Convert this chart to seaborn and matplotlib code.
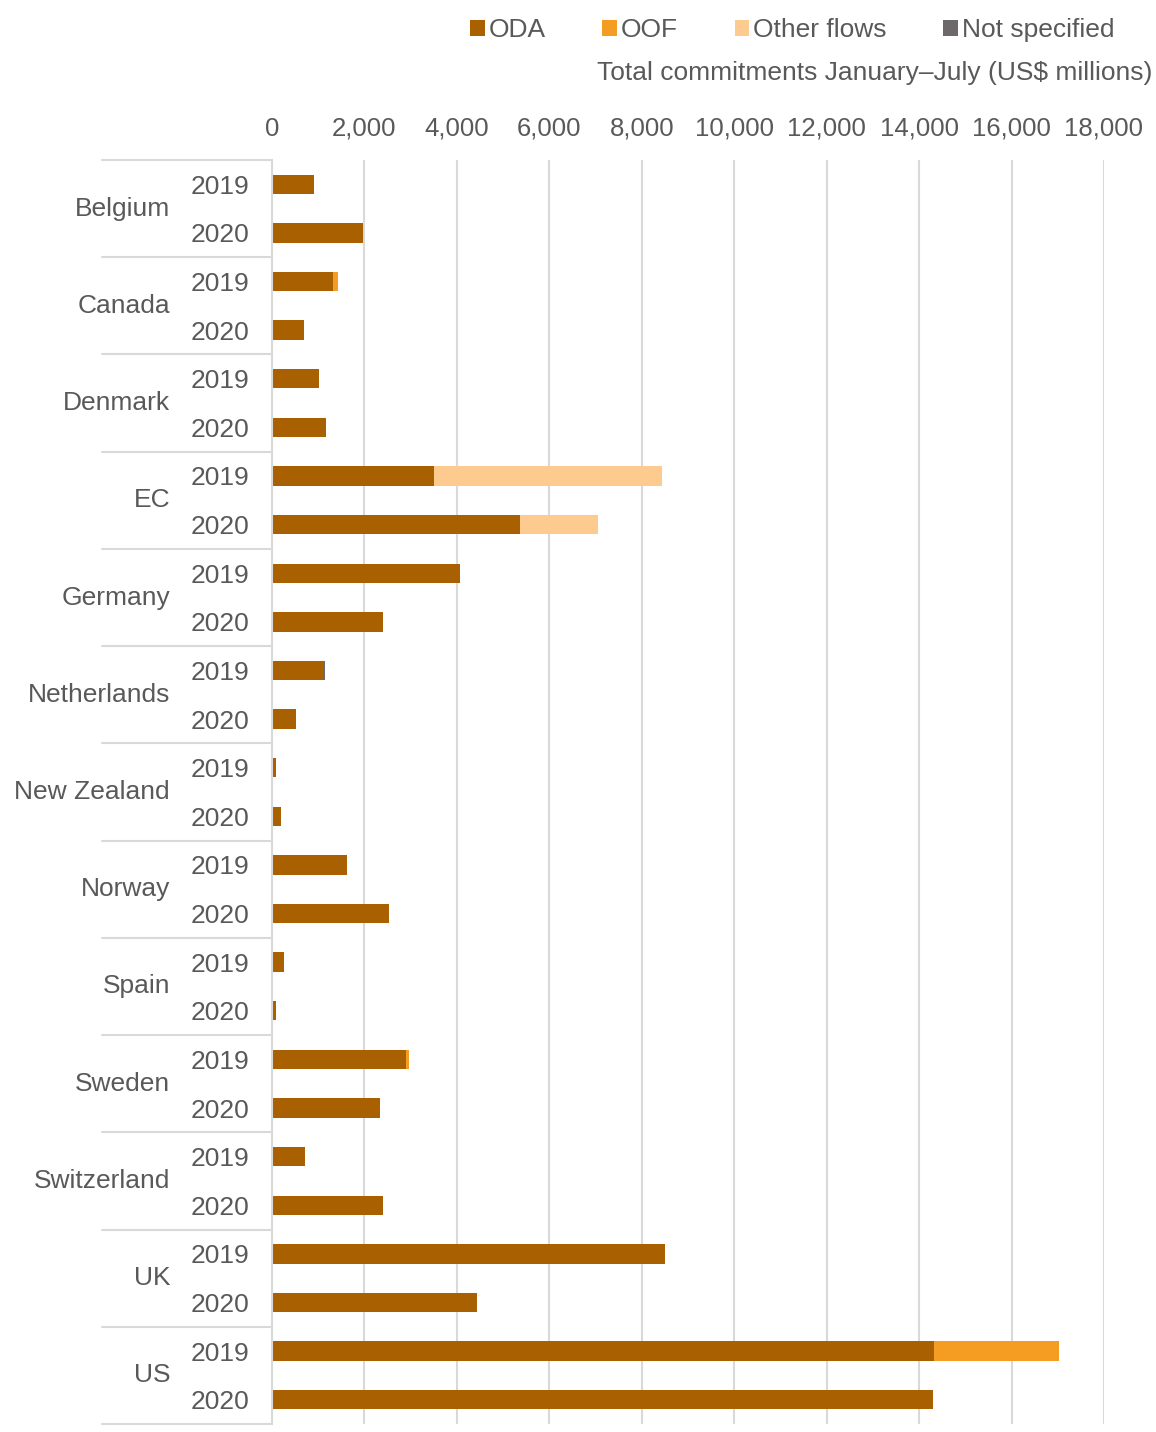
import matplotlib
matplotlib.use("Agg")
import matplotlib.pyplot as plt
import matplotlib.transforms as mtransforms
from matplotlib.patches import Patch
import seaborn as sns
import pandas as pd
import numpy as np

sns.set_theme(style="white")
plt.rcParams['font.family'] = ['Liberation Sans', 'DejaVu Sans']

countries = ["Belgium", "Canada", "Denmark", "EC", "Germany", "Netherlands",
             "New Zealand", "Norway", "Spain", "Sweden", "Switzerland", "UK", "US"]
years = ["2019", "2020"]

# values per country: [2019, 2020]
oda = [900, 1970, 1320, 700, 1020, 1170, 3500, 5370, 4070, 2400, 1100, 530,
       90, 200, 1620, 2530, 270, 80, 2890, 2340, 710, 2400, 8500, 4440, 14330, 14300]
oof = [0, 0, 100, 0, 0, 0, 0, 0, 0, 0, 0, 0,
       0, 0, 0, 0, 0, 0, 70, 0, 0, 0, 0, 0, 2700, 0]
other_flows = [0, 0, 0, 0, 0, 0, 4940, 1690, 0, 0, 0, 0,
               0, 0, 0, 0, 0, 0, 0, 0, 0, 0, 0, 0, 0, 0]
not_specified = [0, 0, 0, 0, 0, 0, 0, 0, 0, 0, 50, 0,
                 0, 0, 0, 0, 0, 0, 0, 0, 0, 0, 0, 0, 0, 0]

series_names = ["ODA", "OOF", "Other flows", "Not specified"]
series_colors = ["#A86000", "#F59C22", "#FDCA8F", "#6D6869"]
xticks = list(range(0, 18001, 2000))

rows = [f"{c} {y}" for c in countries for y in years]
df = pd.DataFrame({"row": rows, "ODA": oda, "OOF": oof,
                   "Other flows": other_flows, "Not specified": not_specified})
cum = df[series_names].cumsum(axis=1)

W, H = 1156, 1432
fig = plt.figure(figsize=(W / 100, H / 100), dpi=100)
ax = fig.add_axes([272 / W, 1 - 1424 / H, (1104 - 272) / W, (1424 - 160) / H])

text_color = "#595959"
grid_color = "#D9D9D9"
fs = 19

for name, color in reversed(list(zip(series_names, series_colors))):
    sns.barplot(data=cum.assign(row=df["row"]), x=name, y="row", order=rows,
                orient="h", color=color, saturation=1, width=0.4,
                linewidth=0, ax=ax, errorbar=None)

ax.set_xlim(0, 18000)
ax.set_ylim(len(rows) - 0.5, -0.5)
ax.set_xticks(xticks)
ax.set_xticklabels([f"{v:,}" for v in xticks])
ax.xaxis.tick_top()
ax.tick_params(axis="x", length=0, pad=14, labelsize=18.5, labelcolor=text_color)
ax.set_yticks(range(len(rows)))
ax.set_yticklabels([r.split()[-1] for r in rows])
ax.tick_params(axis="y", length=0, pad=16, labelsize=fs, labelcolor=text_color)
ax.set_xlabel("")
ax.set_ylabel("")
ax.grid(axis="x", color=grid_color, linewidth=1.5)
ax.set_axisbelow(True)
for s in ["top", "right", "bottom"]:
    ax.spines[s].set_visible(False)
ax.spines["left"].set_color(grid_color)
ax.spines["left"].set_linewidth(1.5)

# group separators and country labels
trans = mtransforms.blended_transform_factory(fig.transFigure, ax.transData)
for i in range(len(countries) + 1):
    yb = 2 * i - 0.5
    ax.plot([102 / W, 272 / W], [yb, yb], transform=trans, color=grid_color,
            linewidth=1.5, clip_on=False)
for i, c in enumerate(countries):
    ax.text(170 / W, 2 * i + 0.5, c, transform=trans, ha="right", va="center",
            fontsize=fs, color=text_color)

fig.text(1152 / W, 1 - 73 / H, "Total commitments January\u2013July (US$ millions)",
         ha="right", va="center", fontsize=fs, color=text_color)

handles = [Patch(facecolor=c, edgecolor="none", label=n)
           for n, c in zip(series_names, series_colors)]
fig.legend(handles=handles, loc="center right", bbox_to_anchor=(1138 / W, 1 - 30 / H),
           ncol=4, frameon=False, fontsize=fs, handlelength=0.55, handleheight=0.55,
           handletextpad=0.15, columnspacing=2.15, labelcolor=text_color)

fig.savefig("out.png", dpi=100)
